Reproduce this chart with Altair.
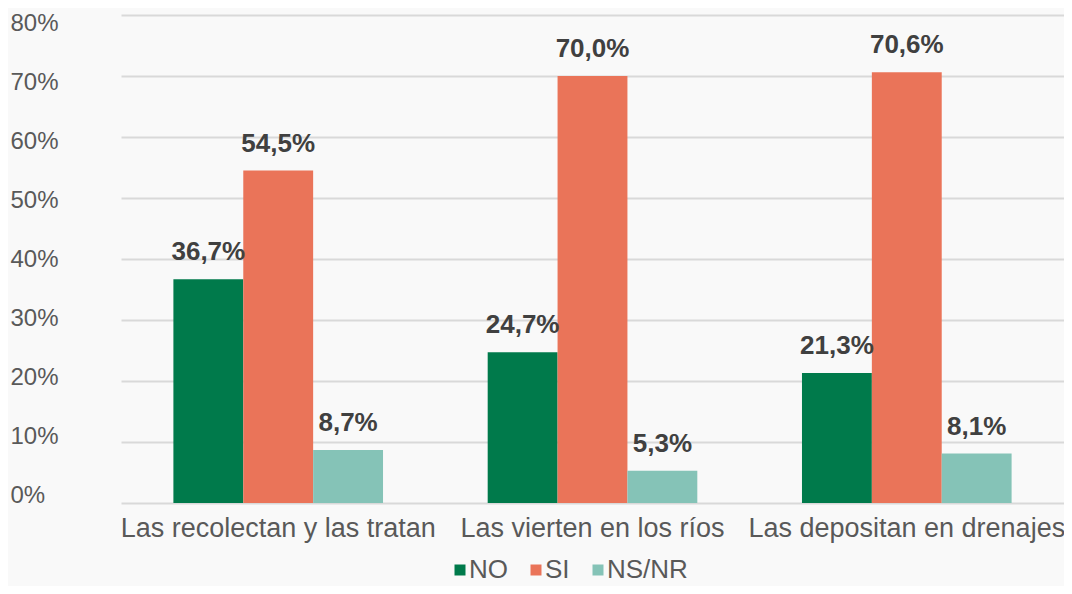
import altair as alt
import pandas as pd

categories = ["Las recolectan y las tratan", "Las vierten en los ríos", "Las depositan en drenajes"]
series = ["NO", "SI", "NS/NR"]
no_vals = [36.7, 24.7, 21.3]
si_vals = [54.5, 70.0, 70.6]
nsnr_vals = [8.7, 5.3, 8.1]
colors = ["#007a4b", "#ea7459", "#85c3b7"]

rows = []
for s, vals in zip(series, [no_vals, si_vals, nsnr_vals]):
    for c, v in zip(categories, vals):
        rows.append({"categoria": c, "serie": s, "valor": v})
df = pd.DataFrame(rows)

FONT = "Liberation Sans"

x = alt.X("categoria:N", sort=categories, title=None,
          scale=alt.Scale(paddingInner=0.333, paddingOuter=0.1667),
          axis=alt.Axis(labelAngle=0, labelFontSize=27, labelColor="#595959", labelFont=FONT,
                        labelPadding=12, ticks=False, domain=False, labelLimit=400))
xoff = alt.XOffset("serie:N", sort=series)
y = alt.Y("valor:Q", title=None,
          scale=alt.Scale(domain=[0, 80], nice=False),
          axis=alt.Axis(values=[0, 10, 20, 30, 40, 50, 60, 70, 80],
                        labelExpr="datum.value + '%'",
                        labelAlign="left", labelBaseline="middle", labelPadding=111,
                        labelOffset={"expr": "-7.5 + 0.2 * datum.value"},
                        labelFontSize=24, labelColor="#595959", labelFont=FONT,
                        ticks=False, domain=False,
                        gridColor="#d9d9d9", gridWidth=2))

color = alt.Color("serie:N", sort=series, title=None,
                  scale=alt.Scale(domain=series, range=colors),
                  legend=alt.Legend(orient="none", legendX=326, legendY=542,
                                    direction="horizontal", columns=3,
                                    symbolType="square", symbolSize=121,
                                    symbolStrokeWidth=0, labelFontSize=26,
                                    labelColor="#595959", labelFont=FONT,
                                    labelOffset={"expr": "-4"}, columnPadding=15))

bars = alt.Chart(df).mark_bar().encode(x=x, xOffset=xoff, y=y, color=color)

labels = alt.Chart(df).transform_calculate(
    etiqueta="replace(format(datum.valor, '.1f'), '.', ',') + '%'"
).mark_text(dy=-19, baseline="alphabetic", fontSize=26, fontWeight="bold",
            color="#404040", font=FONT).encode(
    x=alt.X("categoria:N", sort=categories),
    xOffset=alt.XOffset("serie:N", sort=series),
    y=alt.Y("valor:Q"),
    text="etiqueta:N",
)

chart = alt.layer(bars, labels).properties(
    width=943, height=488,
    autosize=alt.AutoSizeParams(type="none"),
    padding={"left": 113, "top": 7, "right": 0, "bottom": 83},
    background="#f9f9f9",
).configure_view(stroke=None)

chart.save("out.html", embed_options={"renderer": "svg", "actions": False})
